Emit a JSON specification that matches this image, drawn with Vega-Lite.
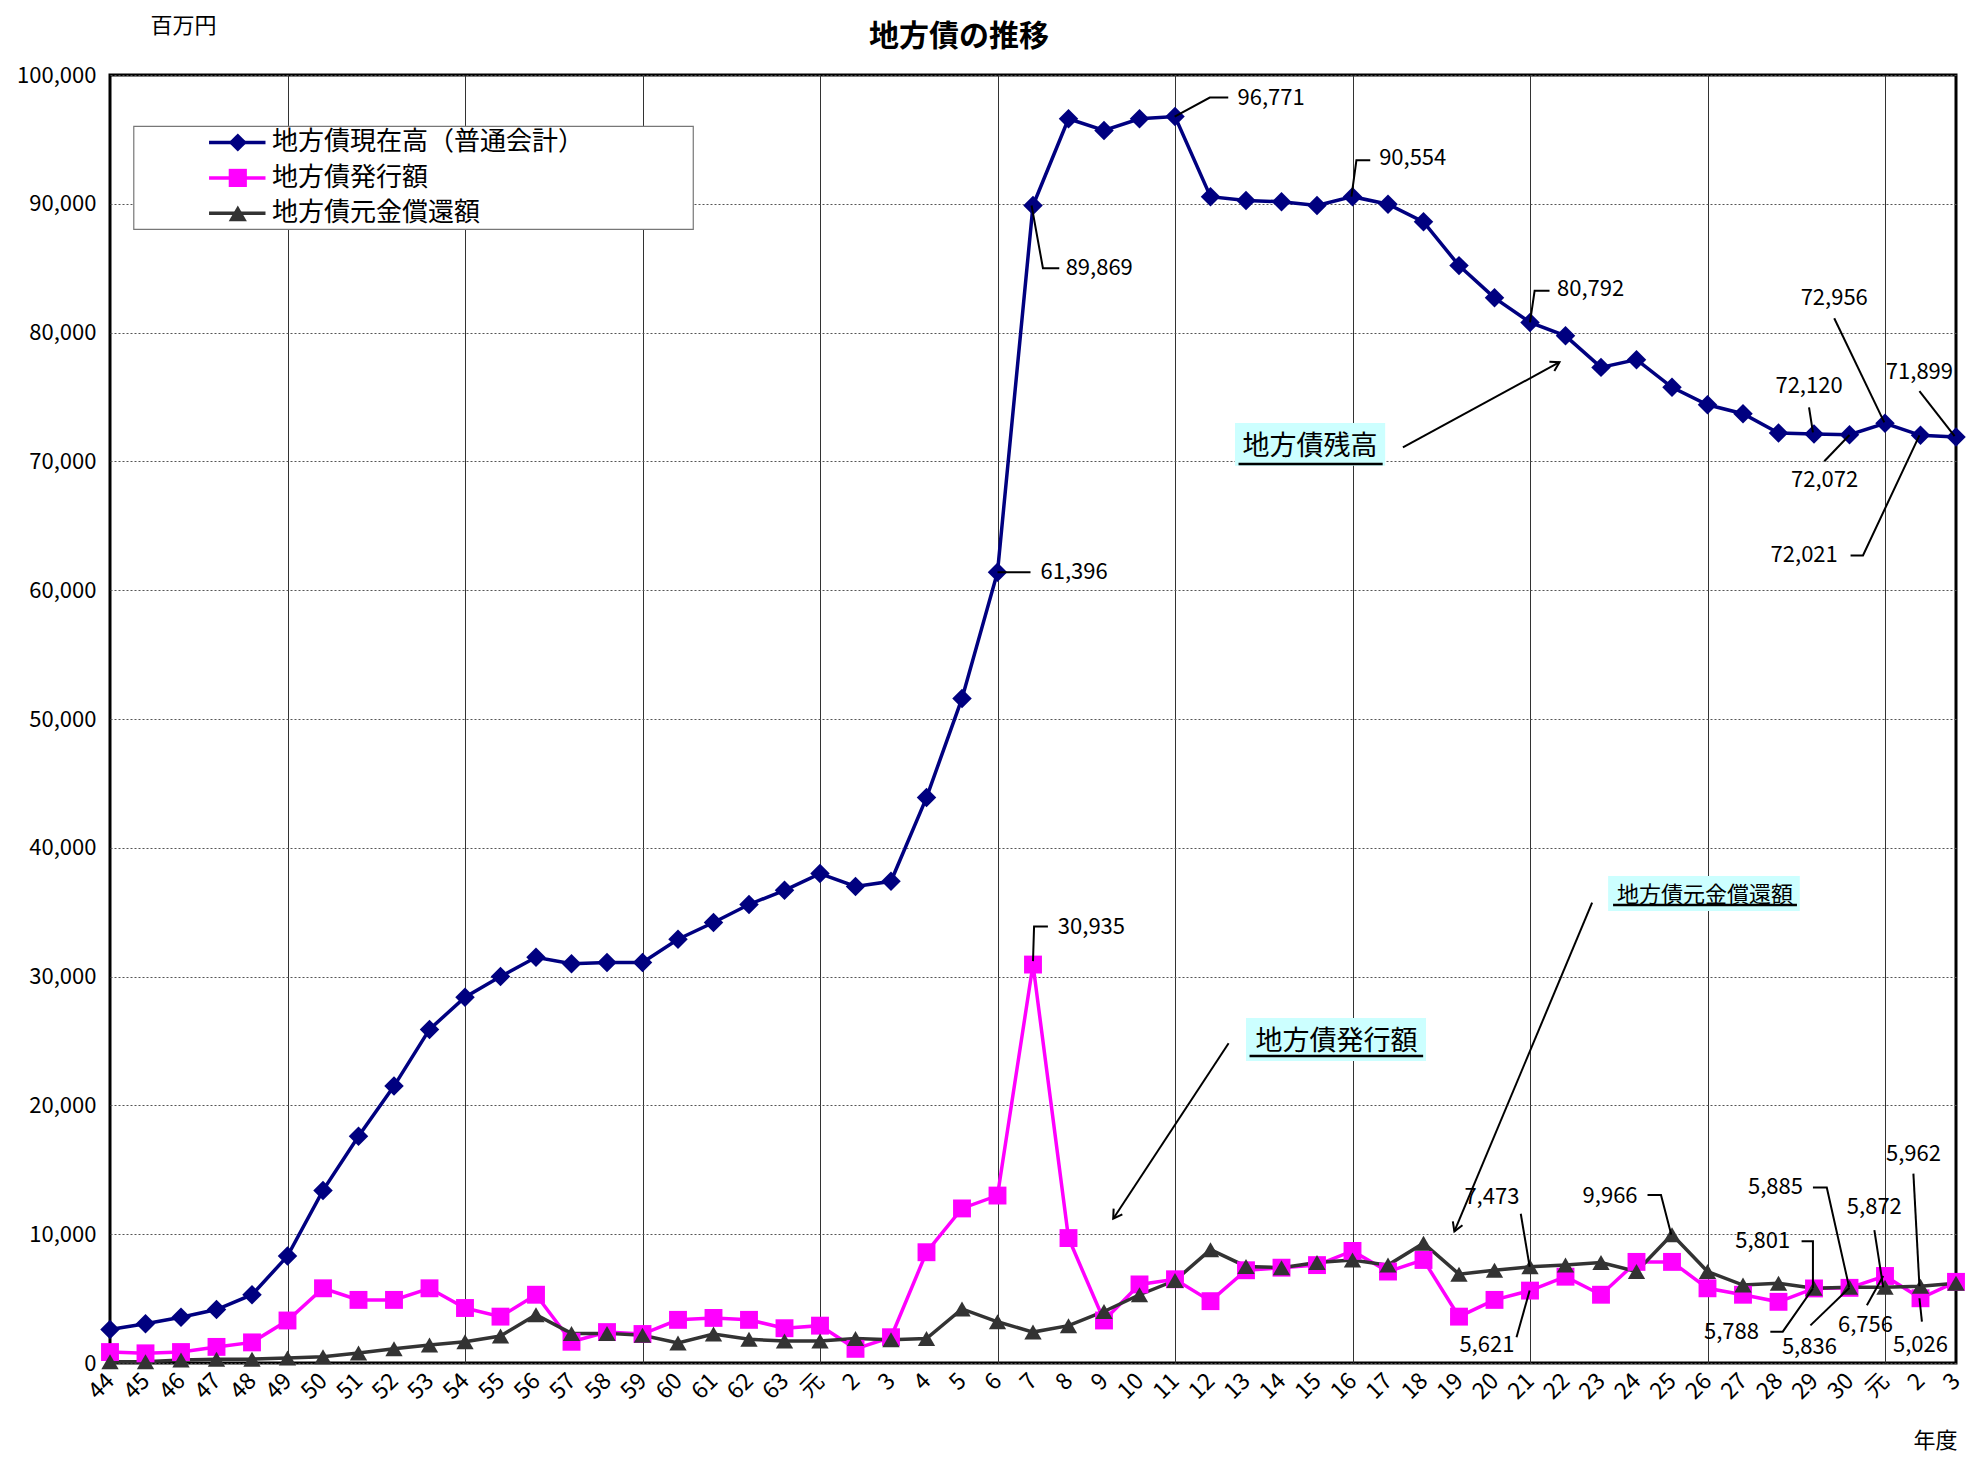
{
  "$schema": "https://vega.github.io/schema/vega-lite/v6.json",
  "width": 1846,
  "height": 1288,
  "autosize": "none",
  "padding": {"left": 110, "top": 75, "right": 10, "bottom": 99},
  "background": "white",
  "title": {"text": "地方債の推移", "fontSize": 30, "fontWeight": "bold", "anchor": "middle", "dx": -74, "offset": -38, "color": "black", "font": "Noto Sans CJK JP"},
  "datasets": {
    "main": [
      {"i":0,"年度":"44","地方債現在高（普通会計）":2600,"地方債発行額":850,"地方債元金償還額":100},
      {"i":1,"年度":"45","地方債現在高（普通会計）":3050,"地方債発行額":750,"地方債元金償還額":100},
      {"i":2,"年度":"46","地方債現在高（普通会計）":3550,"地方債発行額":850,"地方債元金償還額":230},
      {"i":3,"年度":"47","地方債現在高（普通会計）":4150,"地方債発行額":1250,"地方債元金償還額":300},
      {"i":4,"年度":"48","地方債現在高（普通会計）":5300,"地方債発行額":1600,"地方債元金償還額":300},
      {"i":5,"年度":"49","地方債現在高（普通会計）":8300,"地方債発行額":3300,"地方債元金償還額":390},
      {"i":6,"年度":"50","地方債現在高（普通会計）":13400,"地方債発行額":5800,"地方債元金償還額":490},
      {"i":7,"年度":"51","地方債現在高（普通会計）":17600,"地方債発行額":4900,"地方債元金償還額":780},
      {"i":8,"年度":"52","地方債現在高（普通会計）":21500,"地方債発行額":4900,"地方債元金償還額":1100},
      {"i":9,"年度":"53","地方債現在高（普通会計）":25900,"地方債発行額":5800,"地方債元金償還額":1400},
      {"i":10,"年度":"54","地方債現在高（普通会計）":28400,"地方債発行額":4270,"地方債元金償還額":1650},
      {"i":11,"年度":"55","地方債現在高（普通会計）":30000,"地方債発行額":3600,"地方債元金償還額":2100},
      {"i":12,"年度":"56","地方債現在高（普通会計）":31500,"地方債発行額":5300,"地方債元金償還額":3750},
      {"i":13,"年度":"57","地方債現在高（普通会計）":31000,"地方債発行額":1650,"地方債元金償還額":2300},
      {"i":14,"年度":"58","地方債現在高（普通会計）":31100,"地方債発行額":2400,"地方債元金償還額":2300},
      {"i":15,"年度":"59","地方債現在高（普通会計）":31100,"地方債発行額":2250,"地方債元金償還額":2150},
      {"i":16,"年度":"60","地方債現在高（普通会計）":32900,"地方債発行額":3350,"地方債元金償還額":1550},
      {"i":17,"年度":"61","地方債現在高（普通会計）":34200,"地方債発行額":3500,"地方債元金償還額":2250},
      {"i":18,"年度":"62","地方債現在高（普通会計）":35600,"地方債発行額":3350,"地方債元金償還額":1850},
      {"i":19,"年度":"63","地方債現在高（普通会計）":36700,"地方債発行額":2700,"地方債元金償還額":1700},
      {"i":20,"年度":"元","地方債現在高（普通会計）":38000,"地方債発行額":2900,"地方債元金償還額":1700},
      {"i":21,"年度":"2","地方債現在高（普通会計）":37000,"地方債発行額":1100,"地方債元金償還額":1900},
      {"i":22,"年度":"3","地方債現在高（普通会計）":37400,"地方債発行額":2000,"地方債元金償還額":1800},
      {"i":23,"年度":"4","地方債現在高（普通会計）":43900,"地方債発行額":8600,"地方債元金償還額":1900},
      {"i":24,"年度":"5","地方債現在高（普通会計）":51600,"地方債発行額":12000,"地方債元金償還額":4200},
      {"i":25,"年度":"6","地方債現在高（普通会計）":61396,"地方債発行額":13000,"地方債元金償還額":3200},
      {"i":26,"年度":"7","地方債現在高（普通会計）":89869,"地方債発行額":30935,"地方債元金償還額":2400},
      {"i":27,"年度":"8","地方債現在高（普通会計）":96600,"地方債発行額":9700,"地方債元金償還額":2900},
      {"i":28,"年度":"9","地方債現在高（普通会計）":95700,"地方債発行額":3300,"地方債元金償還額":4000},
      {"i":29,"年度":"10","地方債現在高（普通会計）":96600,"地方債発行額":6100,"地方債元金償還額":5300},
      {"i":30,"年度":"11","地方債現在高（普通会計）":96771,"地方債発行額":6500,"地方債元金償還額":6400},
      {"i":31,"年度":"12","地方債現在高（普通会計）":90550,"地方債発行額":4800,"地方債元金償還額":8800},
      {"i":32,"年度":"13","地方債現在高（普通会計）":90260,"地方債発行額":7200,"地方債元金償還額":7500},
      {"i":33,"年度":"14","地方債現在高（普通会計）":90160,"地方債発行額":7400,"地方債元金償還額":7400},
      {"i":34,"年度":"15","地方債現在高（普通会計）":89870,"地方債発行額":7600,"地方債元金償還額":7800},
      {"i":35,"年度":"16","地方債現在高（普通会計）":90554,"地方債発行額":8700,"地方債元金償還額":8000},
      {"i":36,"年度":"17","地方債現在高（普通会計）":89970,"地方債発行額":7100,"地方債元金償還額":7600},
      {"i":37,"年度":"18","地方債現在高（普通会計）":88600,"地方債発行額":8000,"地方債元金償還額":9300},
      {"i":38,"年度":"19","地方債現在高（普通会計）":85200,"地方債発行額":3600,"地方債元金償還額":6900},
      {"i":39,"年度":"20","地方債現在高（普通会計）":82700,"地方債発行額":4900,"地方債元金償還額":7200},
      {"i":40,"年度":"21","地方債現在高（普通会計）":80792,"地方債発行額":5621,"地方債元金償還額":7473},
      {"i":41,"年度":"22","地方債現在高（普通会計）":79750,"地方債発行額":6700,"地方債元金償還額":7600},
      {"i":42,"年度":"23","地方債現在高（普通会計）":77300,"地方債発行額":5300,"地方債元金償還額":7800},
      {"i":43,"年度":"24","地方債現在高（普通会計）":77900,"地方債発行額":7850,"地方債元金償還額":7100},
      {"i":44,"年度":"25","地方債現在高（普通会計）":75750,"地方債発行額":7850,"地方債元金償還額":9966},
      {"i":45,"年度":"26","地方債現在高（普通会計）":74400,"地方債発行額":5800,"地方債元金償還額":7100},
      {"i":46,"年度":"27","地方債現在高（普通会計）":73700,"地方債発行額":5300,"地方債元金償還額":6050},
      {"i":47,"年度":"28","地方債現在高（普通会計）":72200,"地方債発行額":4750,"地方債元金償還額":6200},
      {"i":48,"年度":"29","地方債現在高（普通会計）":72120,"地方債発行額":5788,"地方債元金償還額":5801},
      {"i":49,"年度":"30","地方債現在高（普通会計）":72072,"地方債発行額":5836,"地方債元金償還額":5885},
      {"i":50,"年度":"元","地方債現在高（普通会計）":72956,"地方債発行額":6756,"地方債元金償還額":5872},
      {"i":51,"年度":"2","地方債現在高（普通会計）":72021,"地方債発行額":5026,"地方債元金償還額":5962},
      {"i":52,"年度":"3","地方債現在高（普通会計）":71899,"地方債発行額":6300,"地方債元金償還額":6200}
    ],
    "leaders": [
      {"id":1,"o":0,"i":29.99,"value":96771},{"id":1,"o":1,"i":30.98,"value":98250},{"id":1,"o":2,"i":31.5,"value":98250},
      {"id":2,"o":0,"i":34.97,"value":90554},{"id":2,"o":1,"i":35.11,"value":93380},{"id":2,"o":2,"i":35.5,"value":93380},
      {"id":3,"o":0,"i":25.96,"value":89869},{"id":3,"o":1,"i":26.28,"value":85000},{"id":3,"o":2,"i":26.74,"value":85000},
      {"id":4,"o":0,"i":25.0,"value":61396},{"id":4,"o":1,"i":25.93,"value":61396},
      {"id":5,"o":0,"i":40.0,"value":80792},{"id":5,"o":1,"i":40.13,"value":83250},{"id":5,"o":2,"i":40.55,"value":83250},
      {"id":6,"o":0,"i":47.86,"value":74200},{"id":6,"o":1,"i":47.97,"value":72250},
      {"id":7,"o":0,"i":48.57,"value":81110},{"id":7,"o":1,"i":49.98,"value":73030},
      {"id":8,"o":0,"i":50.97,"value":75460},{"id":8,"o":1,"i":51.96,"value":71960},
      {"id":9,"o":0,"i":48.29,"value":70010},{"id":9,"o":1,"i":49.0,"value":72050},
      {"id":10,"o":0,"i":49.03,"value":62700},{"id":10,"o":1,"i":49.38,"value":62700},{"id":10,"o":2,"i":50.97,"value":72021},
      {"id":11,"o":0,"i":26.0,"value":31200},{"id":11,"o":1,"i":26.03,"value":33885},{"id":11,"o":2,"i":26.42,"value":33885},
      {"id":12,"o":0,"i":39.74,"value":11590},{"id":12,"o":1,"i":39.99,"value":7473},
      {"id":13,"o":0,"i":39.62,"value":2000},{"id":13,"o":1,"i":39.99,"value":5621},
      {"id":14,"o":0,"i":43.31,"value":13050},{"id":14,"o":1,"i":43.69,"value":13050},{"id":14,"o":2,"i":43.98,"value":9966},
      {"id":15,"o":0,"i":47.97,"value":13630},{"id":15,"o":1,"i":48.36,"value":13630},{"id":15,"o":2,"i":48.99,"value":5885},
      {"id":16,"o":0,"i":47.65,"value":9445},{"id":16,"o":1,"i":47.97,"value":9445},{"id":16,"o":2,"i":47.97,"value":5801},
      {"id":17,"o":0,"i":49.7,"value":10320},{"id":17,"o":1,"i":49.95,"value":5872},
      {"id":18,"o":0,"i":50.8,"value":14700},{"id":18,"o":1,"i":50.97,"value":5962},
      {"id":19,"o":0,"i":46.77,"value":2434},{"id":19,"o":1,"i":47.12,"value":2434},{"id":19,"o":2,"i":47.97,"value":5788},
      {"id":20,"o":0,"i":47.9,"value":2920},{"id":20,"o":1,"i":49.0,"value":5836},
      {"id":21,"o":0,"i":49.49,"value":4480},{"id":21,"o":1,"i":49.95,"value":6756},
      {"id":22,"o":0,"i":51.04,"value":3213},{"id":22,"o":1,"i":50.97,"value":5026}
    ],
    "labelsLeft": [
      {"i":31.76,"value":98250,"t":"96,771"},
      {"i":35.75,"value":93570,"t":"90,554"},
      {"i":26.92,"value":85000,"t":"89,869"},
      {"i":26.21,"value":61396,"t":"61,396"},
      {"i":40.76,"value":83350,"t":"80,792"},
      {"i":26.7,"value":33885,"t":"30,935"}
    ],
    "labelsCenter": [
      {"i":47.86,"value":75850,"t":"72,120"},
      {"i":48.57,"value":82670,"t":"72,956"},
      {"i":50.97,"value":76920,"t":"71,899"},
      {"i":48.3,"value":68550,"t":"72,072"},
      {"i":49.7,"value":12074,"t":"5,872"},
      {"i":50.8,"value":16260,"t":"5,962"},
      {"i":47.87,"value":1266,"t":"5,836"},
      {"i":49.45,"value":2920,"t":"6,756"},
      {"i":51.0,"value":1363,"t":"5,026"}
    ],
    "labelsRight": [
      {"i":48.67,"value":62700,"t":"72,021"},
      {"i":39.7,"value":12850,"t":"7,473"},
      {"i":39.56,"value":1363,"t":"5,621"},
      {"i":43.03,"value":12950,"t":"9,966"},
      {"i":47.69,"value":13630,"t":"5,885"},
      {"i":47.33,"value":9445,"t":"5,801"},
      {"i":46.45,"value":2434,"t":"5,788"}
    ],
    "boxes": [
      {"i":31.69,"i2":35.92,"value":69670,"value2":72980},
      {"i":32.0,"i2":37.07,"value":23450,"value2":26790},
      {"i":42.2,"i2":47.6,"value":35090,"value2":37810}
    ],
    "underlines": [
      {"i":31.79,"i2":35.85,"value":69800},
      {"i":32.1,"i2":36.99,"value":23835},
      {"i":42.34,"i2":47.52,"value":35560}
    ],
    "boxTextBig": [
      {"i":33.8,"value":71140,"t":"地方債残高"},
      {"i":34.55,"value":24950,"t":"地方債発行額"}
    ],
    "boxTextSmall": [
      {"i":44.93,"value":36335,"t":"地方債元金償還額"}
    ],
    "arrows": [
      {"i":36.42,"value":71080,"i2":40.83,"value2":77700},
      {"i":31.51,"value":24830,"i2":28.26,"value2":11200},
      {"i":41.75,"value":35735,"i2":37.87,"value2":10220}
    ],
    "heads": [
      {"i":40.83,"value":77700,"ang":-28.5},
      {"i":28.26,"value":11200,"ang":123.3},
      {"i":37.87,"value":10220,"ang":112.2}
    ],
    "legendBox": [
      {"i":0.67,"i2":16.43,"value":88020,"value2":96010}
    ],
    "legendLines": [
      {"key":"地方債現在高（普通会計）","i":2.79,"i2":4.38,"value":94760},
      {"key":"地方債発行額","i":2.79,"i2":4.38,"value":92010},
      {"key":"地方債元金償還額","i":2.79,"i2":4.38,"value":89260}
    ],
    "legendSymbols": [
      {"key":"地方債現在高（普通会計）","i":3.6,"value":94760},
      {"key":"地方債発行額","i":3.6,"value":92010},
      {"key":"地方債元金償還額","i":3.6,"value":89260}
    ],
    "legendText": [
      {"t":"地方債現在高（普通会計）","i":4.56,"value":94760},
      {"t":"地方債発行額","i":4.56,"value":92010},
      {"t":"地方債元金償還額","i":4.56,"value":89260}
    ]
  },
  "encoding": {
    "x": {
      "field": "i", "type": "quantitative",
      "scale": {"domain": [0, 52], "nice": false, "zero": false},
      "title": "年度",
      "axis": {
        "values": [0,1,2,3,4,5,6,7,8,9,10,11,12,13,14,15,16,17,18,19,20,21,22,23,24,25,26,27,28,29,30,31,32,33,34,35,36,37,38,39,40,41,42,43,44,45,46,47,48,49,50,51,52],
        "labelExpr": "['44','45','46','47','48','49','50','51','52','53','54','55','56','57','58','59','60','61','62','63','元','2','3','4','5','6','7','8','9','10','11','12','13','14','15','16','17','18','19','20','21','22','23','24','25','26','27','28','29','30','元','2','3'][datum.value]",
        "labelAngle": -45, "labelAlign": "right", "labelBaseline": "middle",
        "labelFontSize": 23, "labelColor": "black", "labelPadding": 14,
        "labelOverlap": false, "labelFlush": false, "labelBound": false,
        "ticks": false, "domain": false,
        "grid": true, "gridColor": "#333333", "gridWidth": 1,
        "gridOpacity": {"condition": {"test": "datum.value % 5 === 0 && datum.value > 0 && datum.value < 52", "value": 1}, "value": 0},
        "titleFontSize": 22, "titleFontWeight": "normal", "titleColor": "black",
        "titleX": 1825, "titleY": 77, "titleAlign": "center", "titleBaseline": "middle", "titleAngle": 0
      }
    },
    "y": {
      "field": "value", "type": "quantitative",
      "scale": {"domain": [0, 100000], "nice": false},
      "title": "百万円",
      "axis": {
        "values": [0,10000,20000,30000,40000,50000,60000,70000,80000,90000,100000],
        "format": ",.0f",
        "labelFontSize": 22, "labelColor": "black", "labelPadding": 14,
        "ticks": false, "domain": false,
        "grid": true, "gridColor": "#555555", "gridDash": [2, 2], "gridWidth": 1,
        "titleFontSize": 22, "titleFontWeight": "normal", "titleColor": "black",
        "titleAngle": 0, "titleX": 73, "titleY": -50, "titleAlign": "center", "titleBaseline": "middle"
      }
    }
  },
  "layer": [
    {
      "data": {"name": "legendBox"},
      "mark": {"type": "rect", "fill": "white", "stroke": "#777777", "strokeWidth": 1.2},
      "encoding": {"x2": {"field": "i2"}, "y2": {"field": "value2"}}
    },
    {
      "data": {"name": "boxes"},
      "mark": {"type": "rect", "fill": "#CCFFFF"},
      "encoding": {"x2": {"field": "i2"}, "y2": {"field": "value2"}}
    },
    {
      "data": {"name": "underlines"},
      "mark": {"type": "rule", "color": "black", "strokeWidth": 2.5},
      "encoding": {"x2": {"field": "i2"}}
    },
    {
      "data": {"name": "boxTextBig"},
      "mark": {"type": "text", "fontSize": 27, "color": "black", "align": "center", "baseline": "middle", "font": "Noto Sans CJK JP"},
      "encoding": {"text": {"field": "t"}}
    },
    {
      "data": {"name": "boxTextSmall"},
      "mark": {"type": "text", "fontSize": 22, "color": "black", "align": "center", "baseline": "middle", "font": "Noto Sans CJK JP"},
      "encoding": {"text": {"field": "t"}}
    },
    {
      "data": {"name": "main"},
      "transform": [{"fold": ["地方債現在高（普通会計）", "地方債発行額", "地方債元金償還額"], "as": ["key", "value"]}],
      "mark": {"type": "line", "strokeWidth": 3.5},
      "encoding": {
        "color": {"field": "key", "type": "nominal", "scale": {"domain": ["地方債現在高（普通会計）", "地方債発行額", "地方債元金償還額"], "range": ["#000080", "#FF00FF", "#333333"]}, "legend": null}
      }
    },
    {
      "data": {"name": "main"},
      "transform": [{"fold": ["地方債現在高（普通会計）"], "as": ["key", "value"]}],
      "mark": {"type": "point", "shape": "diamond", "filled": true, "opacity": 1, "color": "#000080", "size": 380},
      "encoding": {}
    },
    {
      "data": {"name": "main"},
      "transform": [{"fold": ["地方債発行額"], "as": ["key", "value"]}],
      "mark": {"type": "point", "shape": "square", "filled": true, "opacity": 1, "color": "#FF00FF", "size": 320},
      "encoding": {}
    },
    {
      "data": {"name": "main"},
      "transform": [{"fold": ["地方債元金償還額"], "as": ["key", "value"]}],
      "mark": {"type": "point", "shape": "triangle-up", "filled": true, "opacity": 1, "color": "#333333", "size": 300},
      "encoding": {}
    },
    {
      "data": {"name": "legendLines"},
      "mark": {"type": "rule", "strokeWidth": 3.5},
      "encoding": {
        "x2": {"field": "i2"},
        "color": {"field": "key", "type": "nominal", "legend": null}
      }
    },
    {
      "data": {"name": "legendSymbols"},
      "mark": {"type": "point", "filled": true, "opacity": 1, "size": 330},
      "encoding": {
        "color": {"field": "key", "type": "nominal", "legend": null},
        "shape": {"field": "key", "type": "nominal", "scale": {"domain": ["地方債現在高（普通会計）", "地方債発行額", "地方債元金償還額"], "range": ["diamond", "square", "triangle-up"]}, "legend": null}
      }
    },
    {
      "data": {"name": "legendText"},
      "mark": {"type": "text", "fontSize": 26, "color": "black", "align": "left", "baseline": "middle", "font": "Noto Sans CJK JP"},
      "encoding": {"text": {"field": "t"}}
    },
    {
      "data": {"name": "leaders"},
      "mark": {"type": "line", "color": "black", "strokeWidth": 2},
      "encoding": {"detail": {"field": "id"}, "order": {"field": "o"}}
    },
    {
      "data": {"name": "arrows"},
      "mark": {"type": "rule", "color": "black", "strokeWidth": 2},
      "encoding": {"x2": {"field": "i2"}, "y2": {"field": "value2"}}
    },
    {
      "data": {"name": "heads"},
      "mark": {"type": "point", "shape": "M-1,-0.6L0,0L-1,0.6", "filled": false, "opacity": 1, "stroke": "black", "strokeWidth": 2, "size": 300},
      "encoding": {"angle": {"field": "ang", "type": "quantitative", "scale": null}}
    },
    {
      "data": {"name": "labelsLeft"},
      "mark": {"type": "text", "fontSize": 22, "color": "black", "align": "left", "baseline": "middle", "font": "Noto Sans CJK JP"},
      "encoding": {"text": {"field": "t"}}
    },
    {
      "data": {"name": "labelsCenter"},
      "mark": {"type": "text", "fontSize": 22, "color": "black", "align": "center", "baseline": "middle", "font": "Noto Sans CJK JP"},
      "encoding": {"text": {"field": "t"}}
    },
    {
      "data": {"name": "labelsRight"},
      "mark": {"type": "text", "fontSize": 22, "color": "black", "align": "right", "baseline": "middle", "font": "Noto Sans CJK JP"},
      "encoding": {"text": {"field": "t"}}
    }
  ],
  "config": {
    "font": "Noto Sans CJK JP",
    "view": {"stroke": "black", "strokeWidth": 3},
    "axis": {"labelFont": "Noto Sans CJK JP", "titleFont": "Noto Sans CJK JP"}
  }
}
